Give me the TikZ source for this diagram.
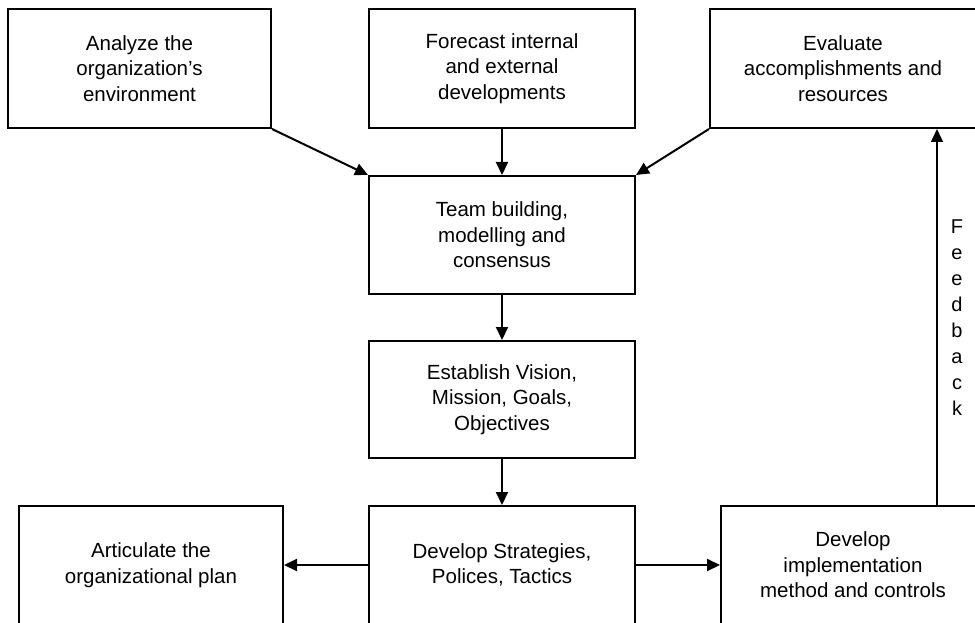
\documentclass[tikz,border=0pt]{standalone}
\usepackage{fontspec}
\setmainfont{Liberation Sans}
\usetikzlibrary{arrows.meta}
\begin{document}
\begin{tikzpicture}[x=1pt,y=-1pt,
  box/.style={draw=black,line width=2pt,fill=white,rectangle,inner sep=0pt,
    align=center,font=\fontsize{20.5}{25.5}\selectfont},
  arr/.style={line width=2pt,-{Triangle[length=13pt,width=12pt]}},
  fbarr/.style={line width=1.5pt,-{Triangle[length=13pt,width=12pt]}}]
\clip (0,0) rectangle (975,623);
\fill[white] (0,0) rectangle (975,623);
\node[box,minimum width=263pt,minimum height=119pt] (A) at (139.5,68.5) {Analyze the\\organization's\\environment};
\node[box,minimum width=266pt,minimum height=119pt] (B) at (502,68.5) {Forecast internal\\and external\\developments};
\node[box,minimum width=266pt,minimum height=119pt] (C) at (843,68.5) {Evaluate\\accomplishments and\\resources};
\node[box,minimum width=266pt,minimum height=118pt] (T) at (502,235) {Team building,\\modelling and\\consensus};
\node[box,minimum width=266pt,minimum height=117pt] (E) at (502,399.5) {Establish Vision,\\Mission, Goals,\\Objectives};
\node[box,minimum width=266pt,minimum height=118pt] (D) at (502,565) {Develop Strategies,\\Polices, Tactics};
\node[box,minimum width=264pt,minimum height=118pt] (P) at (151,565) {Articulate the\\organizational plan};
\node[box,minimum width=264pt,minimum height=118pt] (I) at (853,565) {Develop\\implementation\\method and controls};
\coordinate (fb) at (937,0);
\draw[arr] (A.south east) -- (T.north west);
\draw[arr] (B.south) -- (T.north);
\draw[arr] (C.south west) -- (T.north east);
\draw[arr] (T.south) -- (E.north);
\draw[arr] (E.south) -- (D.north);
\draw[arr] (D.west) -- (P.east);
\draw[arr] (D.east) -- (I.west);
\draw[fbarr] (I.north -| fb) -- (C.south -| fb);
\node[align=center,inner sep=0pt,font=\fontsize{20}{26}\selectfont] (fbl) at (957,318) {F\\e\\e\\d\\b\\a\\c\\k};
\end{tikzpicture}
\end{document}
